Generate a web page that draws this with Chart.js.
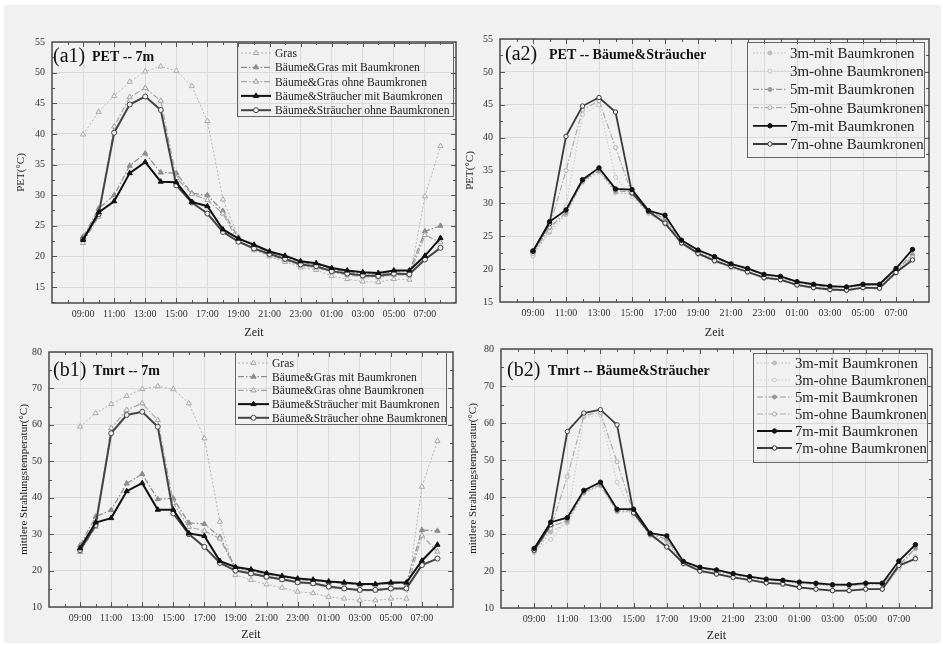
<!DOCTYPE html>
<html>
<head>
<meta charset="utf-8">
<script src="https://cdn.jsdelivr.net/npm/chart.js@4.4.1/dist/chart.umd.min.js"></script>
<style>
    html, body { margin: 0; padding: 0; background: #fff; }
    #page { position: absolute; left: 4px; top: 5px; width: 937px; height: 638px; background: #f1f1f1; }
    .panel { position: absolute; }
</style>
</head>
<body>
<div id="page"></div>
<div class="panel" style="left:0;top:0"><canvas id="a1" width="470" height="342"></canvas></div>
<div class="panel" style="left:455px;top:0"><canvas id="a2" width="488" height="342"></canvas></div>
<div class="panel" style="left:0;top:320px"><canvas id="b1" width="470" height="325"></canvas></div>
<div class="panel" style="left:455px;top:320px"><canvas id="b2" width="488" height="325"></canvas></div>
<script>
// time axis, 09:00 -> 08:00 next day
const hours = ["09:00", "10:00", "11:00", "12:00", "13:00", "14:00", "15:00", "16:00", "17:00", "18:00", "19:00", "20:00",
    "21:00", "22:00", "23:00", "24:00", "01:00", "02:00", "03:00", "04:00", "05:00", "06:00", "07:00", "08:00"];

// PET, 7m
const petGras = [39.9, 43.6, 46.2, 48.5, 50.2, 51.0, 50.3, 47.8, 42.1, 29.3, 23.2, 21.0, 20.0, 19.1, 18.2, 17.8, 16.8, 16.3, 15.9, 15.8, 16.3, 16.2, 29.8, 38.0];
const petGrasMit = [23.2, 27.8, 30.0, 34.8, 36.8, 33.7, 33.6, 30.3, 30.0, 27.4, 23.0, 21.8, 20.7, 19.9, 19.0, 18.7, 17.9, 17.5, 17.2, 17.1, 17.5, 17.5, 24.1, 25.0];
const petGrasOhne = [22.2, 26.5, 41.2, 46.0, 47.5, 45.4, 32.8, 30.2, 29.2, 27.0, 22.4, 21.2, 20.2, 19.4, 18.5, 18.2, 17.4, 17.0, 16.7, 16.6, 17.0, 16.9, 23.5, 22.3];
const pet7mMit = [22.7, 27.2, 29.0, 33.6, 35.4, 32.2, 32.1, 28.9, 28.2, 24.4, 22.9, 21.9, 20.8, 20.1, 19.2, 18.9, 18.1, 17.7, 17.4, 17.3, 17.7, 17.7, 20.1, 23.0];
const pet7mOhne = [22.8, 26.9, 40.2, 44.8, 46.1, 43.9, 31.6, 28.8, 27.0, 24.0, 22.4, 21.3, 20.4, 19.6, 18.7, 18.4, 17.6, 17.2, 16.9, 16.8, 17.2, 17.1, 19.5, 21.4];
// PET, Bäume&Sträucher 3m / 5m
const pet3mMit = [22.2, 25.6, 28.3, 33.2, 34.8, 31.6, 31.4, 28.6, 27.4, 24.0, 22.6, 21.6, 20.6, 19.9, 19.0, 18.7, 17.9, 17.5, 17.2, 17.1, 17.5, 17.5, 19.6, 22.0];
const pet3mOhne = [22.0, 25.8, 29.5, 43.5, 45.0, 34.0, 31.0, 28.5, 26.8, 23.8, 22.2, 21.1, 20.2, 19.4, 18.6, 18.3, 17.5, 17.1, 16.8, 16.7, 17.1, 17.0, 19.3, 21.6];
const pet5mMit = [22.5, 26.3, 28.6, 33.4, 35.0, 31.9, 31.8, 28.8, 27.7, 24.2, 22.8, 21.8, 20.7, 20.0, 19.1, 18.8, 18.0, 17.6, 17.3, 17.2, 17.6, 17.6, 19.8, 22.2];
const pet5mOhne = [22.4, 26.4, 35.0, 44.2, 45.6, 38.5, 31.4, 28.6, 26.9, 23.9, 22.3, 21.2, 20.3, 19.5, 18.6, 18.3, 17.5, 17.1, 16.8, 16.7, 17.1, 17.0, 19.4, 21.8];

// Tmrt, 7m
const tmrtGras = [59.5, 63.2, 65.7, 67.9, 69.8, 70.6, 69.8, 65.9, 56.3, 33.4, 18.8, 17.4, 16.2, 15.3, 14.2, 13.8, 12.8, 12.3, 11.8, 11.8, 12.3, 12.3, 43.0, 55.6];
const tmrtGrasMit = [26.9, 34.8, 36.6, 43.9, 46.5, 39.6, 39.8, 33.1, 32.8, 29.2, 20.8, 19.9, 19.0, 18.3, 17.6, 17.3, 16.8, 16.5, 16.1, 16.1, 16.5, 16.5, 31.1, 30.9];
const tmrtGrasOhne = [25.1, 32.0, 59.1, 64.1, 65.9, 61.3, 38.5, 32.0, 30.9, 28.8, 20.2, 19.0, 18.1, 17.4, 16.6, 16.3, 15.4, 14.9, 14.5, 14.5, 14.9, 14.9, 29.6, 25.2];
const tmrt7mMit = [26.1, 33.2, 34.4, 41.8, 44.0, 36.7, 36.7, 30.2, 29.5, 22.6, 21.0, 20.3, 19.3, 18.5, 17.8, 17.5, 17.0, 16.7, 16.3, 16.3, 16.7, 16.7, 22.7, 27.1];
const tmrt7mOhne = [25.6, 32.5, 57.7, 62.7, 63.6, 59.5, 35.7, 30.0, 26.5, 22.1, 20.0, 19.2, 18.3, 17.6, 16.8, 16.5, 15.6, 15.1, 14.7, 14.7, 15.1, 15.1, 21.5, 23.3];
// Tmrt, Bäume&Sträucher 3m / 5m
const tmrt3mMit = [25.0, 30.5, 33.0, 41.0, 43.0, 36.0, 36.0, 29.8, 28.0, 22.0, 20.5, 19.8, 18.9, 18.2, 17.5, 17.2, 16.6, 16.3, 15.9, 15.9, 16.3, 16.3, 20.8, 26.0];
const tmrt3mOhne = [25.3, 28.5, 33.8, 61.5, 62.0, 44.0, 35.0, 29.5, 26.8, 21.8, 19.8, 19.0, 18.1, 17.4, 16.6, 16.3, 15.4, 15.0, 14.6, 14.6, 15.0, 15.0, 20.5, 23.9];
const tmrt5mMit = [25.6, 32.0, 33.6, 41.3, 43.3, 36.2, 36.3, 30.0, 28.6, 22.3, 20.8, 20.0, 19.1, 18.4, 17.7, 17.4, 16.8, 16.5, 16.1, 16.1, 16.5, 16.5, 21.5, 26.2];
const tmrt5mOhne = [25.4, 31.5, 45.5, 62.0, 62.8, 49.5, 35.5, 29.8, 26.6, 21.9, 19.9, 19.1, 18.2, 17.5, 16.7, 16.4, 15.5, 15.0, 14.6, 14.6, 15.0, 15.0, 21.0, 23.6];

const BG = "#f1f1f1";
const SERIF = '"Liberation Serif", "Times New Roman", serif';
Chart.defaults.font.family = SERIF;

// line styles
const dashDot = [6, 2, 1.5, 2];
const styles = {
    gras:   { borderColor: "#b4b4b4", borderWidth: 1, borderDash: [2, 2], pointStyle: "triangle", pointRadius: 3, pointBackgroundColor: BG, pointBorderColor: "#aaa", order: 5 },
    bgMit:  { borderColor: "#8c8c8c", borderWidth: 1.2, borderDash: dashDot, pointStyle: "triangle", pointRadius: 3, pointBackgroundColor: "#8c8c8c", pointBorderColor: "#8c8c8c", order: 4 },
    bgOhne: { borderColor: "#a6a6a6", borderWidth: 1.2, borderDash: dashDot, pointStyle: "triangle", pointRadius: 3, pointBackgroundColor: BG, pointBorderColor: "#a0a0a0", order: 3 },
    bsMit:  { borderColor: "#111", borderWidth: 2, borderDash: [], pointStyle: "triangle", pointRadius: 3, pointBackgroundColor: "#111", pointBorderColor: "#111", order: 1 },
    bsOhne: { borderColor: "#444", borderWidth: 2, borderDash: [], pointStyle: "circle", pointRadius: 2.5, pointBackgroundColor: BG, pointBorderColor: "#444", order: 2 },
    m3:     { borderColor: "#bdbdbd", borderWidth: 1.2, borderDash: [1.5, 2], pointStyle: "circle", pointRadius: 2, pointBackgroundColor: "#bdbdbd", pointBorderColor: "#bdbdbd", order: 6 },
    o3:     { borderColor: "#cdcdcd", borderWidth: 1.2, borderDash: [1.5, 2], pointStyle: "circle", pointRadius: 2, pointBackgroundColor: BG, pointBorderColor: "#c4c4c4", order: 5 },
    m5:     { borderColor: "#999", borderWidth: 1.2, borderDash: dashDot, pointStyle: "circle", pointRadius: 2, pointBackgroundColor: "#999", pointBorderColor: "#999", order: 4 },
    o5:     { borderColor: "#acacac", borderWidth: 1.2, borderDash: dashDot, pointStyle: "circle", pointRadius: 2, pointBackgroundColor: BG, pointBorderColor: "#aaa", order: 3 },
    m7:     { borderColor: "#111", borderWidth: 1.8, borderDash: [], pointStyle: "circle", pointRadius: 2.2, pointBackgroundColor: "#111", pointBorderColor: "#111", order: 1 },
    o7:     { borderColor: "#3a3a3a", borderWidth: 1.8, borderDash: [], pointStyle: "circle", pointRadius: 2.2, pointBackgroundColor: BG, pointBorderColor: "#3a3a3a", order: 2 }
};

function series(label, values, style) {
    return Object.assign({
        label: label,
        data: values.map((v, i) => ({ x: i, y: v })),
        tension: 0,
        pointBorderWidth: 1,
        fill: false
    }, style);
}

// inner frame with inward tick marks
const framePlugin = {
    id: "frame",
    afterDatasetsDraw(chart, args, opts) {
        const { ctx, chartArea: a, scales: { x, y } } = chart;
        ctx.save();
        ctx.strokeStyle = "#555";
        ctx.lineWidth = 1;
        ctx.beginPath();
        for (let v = -1; v < 24; v++) {
            const px = Math.round(x.getPixelForValue(v)) + 0.5;
            const len = v % 2 === 0 ? 5 : 3;
            ctx.moveTo(px, a.bottom); ctx.lineTo(px, a.bottom - len);
            ctx.moveTo(px, a.top); ctx.lineTo(px, a.top + len);
        }
        for (let v = Math.ceil(y.min / opts.minor) * opts.minor; v < y.max; v += opts.minor) {
            if (v <= y.min) continue;
            const py = Math.round(y.getPixelForValue(v)) + 0.5;
            const len = Math.abs(v % opts.major) < 0.01 ? 5 : 3;
            ctx.moveTo(a.left, py); ctx.lineTo(a.left + len, py);
            ctx.moveTo(a.right, py); ctx.lineTo(a.right - len, py);
        }
        ctx.stroke();
        ctx.lineWidth = 1.5;
        ctx.strokeStyle = "#4a4a4a";
        ctx.strokeRect(a.left, a.top, a.width, a.height);
        ctx.restore();
    }
};

// panel caption + boxed legend inside the plot
const boxLegendPlugin = {
    id: "boxLegend",
    afterDraw(chart, args, opts) {
        const ctx = chart.ctx;
        ctx.save();
        ctx.fillStyle = "#111";
        ctx.textBaseline = "middle";
        ctx.font = "20px " + SERIF;
        ctx.fillText(opts.tag, opts.tagX, opts.tagY);
        ctx.font = "bold 14px " + SERIF;
        ctx.fillText(opts.caption, opts.capX, opts.tagY);

        ctx.strokeStyle = "#666";
        ctx.lineWidth = 1;
        ctx.strokeRect(opts.box[0] + 0.5, opts.box[1] + 0.5, opts.box[2], opts.box[3]);
        ctx.font = opts.fontSize + "px " + SERIF;
        chart.data.datasets.forEach((d, i) => {
            const yy = opts.firstRow + i * opts.rowStep;
            ctx.strokeStyle = d.borderColor;
            ctx.lineWidth = d.borderWidth;
            ctx.setLineDash(d.borderDash);
            ctx.beginPath();
            ctx.moveTo(opts.sample[0], yy);
            ctx.lineTo(opts.sample[1], yy);
            ctx.stroke();
            ctx.setLineDash([]);
            ctx.fillStyle = d.pointBackgroundColor;
            ctx.strokeStyle = d.pointBorderColor;
            ctx.lineWidth = 1;
            Chart.helpers.drawPoint(ctx, { pointStyle: d.pointStyle, radius: d.pointRadius, borderWidth: 1, rotation: 0 },
                (opts.sample[0] + opts.sample[1]) / 2, yy);
            ctx.fillStyle = "#222";
            ctx.fillText(d.label, opts.textX, yy + 1);
        });
        ctx.restore();
    }
};

function xAxis(height, titlePad) {
    return {
        type: "linear", min: -2, max: 24,
        afterFit: s => { s.height = height; },
        afterBuildTicks: s => {
            s.ticks = [];
            for (let v = -2; v <= 24; v++) s.ticks.push({ value: v });
        },
        ticks: {
            autoSkip: false, maxRotation: 0, padding: 5, color: "#333", font: { size: 10 },
            callback: v => (v >= 0 && v < hours.length && v % 2 === 0) ? hours[v] : ""
        },
        grid: {
            drawTicks: false, lineWidth: 1,
            color: c => (c.tick && c.tick.value >= 0 && c.tick.value <= 22 && c.tick.value % 2 === 0) ? "#dadada" : "rgba(0,0,0,0)"
        },
        border: { display: false },
        title: { display: true, text: "Zeit", color: "#222", font: { size: 12 }, padding: { top: 0, bottom: titlePad } }
    };
}

function yAxis(min, max, step, width, title, titlePad) {
    return {
        min: min, max: max,
        afterFit: s => { s.width = width; },
        afterBuildTicks: s => {
            s.ticks = [];
            for (let v = Math.ceil(min / step) * step; v <= max; v += step) s.ticks.push({ value: v });
        },
        ticks: { padding: 7, color: "#333", font: { size: 10 } },
        grid: { drawTicks: false, color: "#dadada", lineWidth: 1 },
        border: { display: false },
        title: { display: true, text: title, color: "#222", font: { size: 11 }, padding: { top: titlePad, bottom: 0 } }
    };
}

function makeChart(id, datasets, opts) {
    return new Chart(document.getElementById(id), {
        type: "line",
        data: { datasets: datasets },
        options: {
            responsive: false,
            animation: false,
            layout: { padding: opts.padding },
            plugins: {
                legend: { display: false },
                tooltip: { enabled: false },
                frame: opts.frame,
                boxLegend: opts.legend
            },
            scales: { x: opts.x, y: opts.y }
        },
        plugins: [framePlugin, boxLegendPlugin]
    });
}

const labels7m = ["Gras", "Bäume&Gras mit Baumkronen", "Bäume&Gras ohne Baumkronen",
    "Bäume&Sträucher mit Baumkronen", "Bäume&Sträucher ohne Baumkronen"];
const labelsHeight = ["3m-mit Baumkronen", "3m-ohne Baumkronen", "5m-mit Baumkronen",
    "5m-ohne Baumkronen", "7m-mit Baumkronen", "7m-ohne Baumkronen"];

makeChart("a1", [
    series(labels7m[0], petGras, styles.gras),
    series(labels7m[1], petGrasMit, styles.bgMit),
    series(labels7m[2], petGrasOhne, styles.bgOhne),
    series(labels7m[3], pet7mMit, styles.bsMit),
    series(labels7m[4], pet7mOhne, styles.bsOhne)
], {
    padding: { top: 42, right: 14, bottom: 0, left: 0 },
    x: xAxis(39, 2),
    y: yAxis(12.4, 55, 5, 52, "PET(°C)", 15),
    frame: { minor: 2.5, major: 5 },
    legend: { tag: "(a1)", tagX: 53, tagY: 57, caption: "PET -- 7m", capX: 92,
        box: [237, 43, 216, 73], firstRow: 53, rowStep: 14.3, sample: [241, 271], textX: 275, fontSize: 11.6 }
});

makeChart("a2", [
    series(labelsHeight[0], pet3mMit, styles.m3),
    series(labelsHeight[1], pet3mOhne, styles.o3),
    series(labelsHeight[2], pet5mMit, styles.m5),
    series(labelsHeight[3], pet5mOhne, styles.o5),
    series(labelsHeight[4], pet7mMit, styles.m7),
    series(labelsHeight[5], pet7mOhne, styles.o7)
], {
    padding: { top: 39, right: 14, bottom: 0, left: 0 },
    x: xAxis(40, 2),
    y: yAxis(15, 55, 5, 45, "PET(°C)", 9),
    frame: { minor: 2.5, major: 5 },
    legend: { tag: "(a2)", tagX: 50, tagY: 55, caption: "PET -- Bäume&Sträucher", capX: 94,
        box: [292, 42, 177, 115], firstRow: 53, rowStep: 18.2, sample: [298, 332], textX: 335, fontSize: 14.9 }
});

makeChart("b1", [
    series(labels7m[0], tmrtGras, styles.gras),
    series(labels7m[1], tmrtGrasMit, styles.bgMit),
    series(labels7m[2], tmrtGrasOhne, styles.bgOhne),
    series(labels7m[3], tmrt7mMit, styles.bsMit),
    series(labels7m[4], tmrt7mOhne, styles.bsOhne)
], {
    padding: { top: 32, right: 17, bottom: 0, left: 0 },
    x: xAxis(38, 3),
    y: yAxis(10, 80, 10, 49, "mittlere Strahlungstemperatur(°C)", 18),
    frame: { minor: 5, major: 10 },
    legend: { tag: "(b1)", tagX: 53, tagY: 51, caption: "Tmrt -- 7m", capX: 93,
        box: [235, 32, 211, 72], firstRow: 43, rowStep: 13.7, sample: [238, 269], textX: 272, fontSize: 11.6 }
});

makeChart("b2", [
    series(labelsHeight[0], tmrt3mMit, styles.m3),
    series(labelsHeight[1], tmrt3mOhne, styles.o3),
    series(labelsHeight[2], tmrt5mMit, styles.m5),
    series(labelsHeight[3], tmrt5mOhne, styles.o5),
    series(labelsHeight[4], tmrt7mMit, styles.m7),
    series(labelsHeight[5], tmrt7mOhne, styles.o7)
], {
    padding: { top: 29, right: 11, bottom: 0, left: 0 },
    x: xAxis(37, 2),
    y: yAxis(10, 80, 10, 46, "mittlere Strahlungstemperatur(°C)", 12),
    frame: { minor: 5, major: 10 },
    legend: { tag: "(b2)", tagX: 52, tagY: 51, caption: "Tmrt -- Bäume&Sträucher", capX: 93,
        box: [298, 33, 174, 109], firstRow: 43, rowStep: 17, sample: [302, 337], textX: 340, fontSize: 14.7 }
});
</script>
</body>
</html>
